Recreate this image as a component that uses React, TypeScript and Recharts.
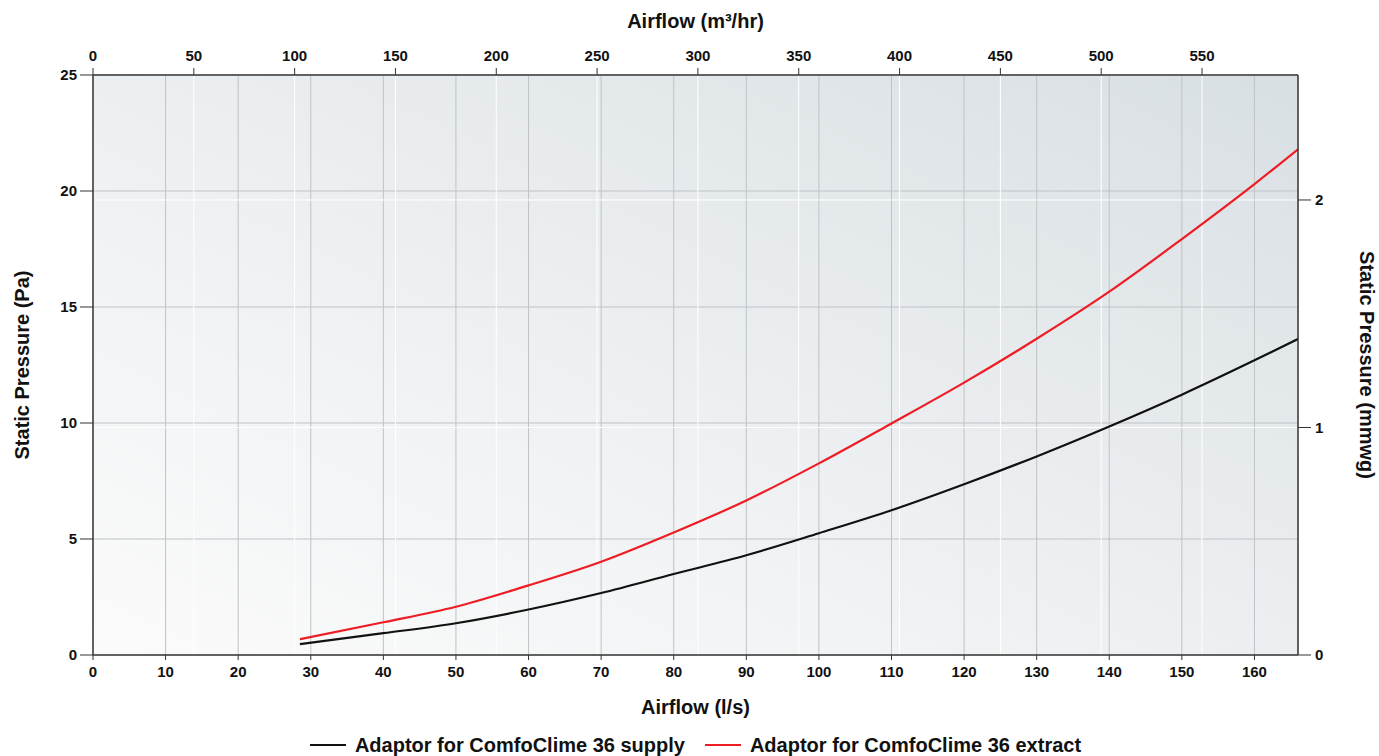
import { LineChart, Line, XAxis, YAxis, CartesianGrid, Legend } from "recharts"

// airflow in l/s, pressure in Pa
const flowLs = [28.5, 40, 50, 60, 70, 80, 90, 100, 110, 120, 130, 140, 150, 160, 166]
const supplyPa = [0.47, 0.94, 1.37, 1.96, 2.67, 3.49, 4.3, 5.25, 6.24, 7.36, 8.56, 9.85, 11.22, 12.7, 13.62]
const extractPa = [0.68, 1.41, 2.08, 3.0, 4.02, 5.28, 6.66, 8.26, 9.98, 11.74, 13.63, 15.66, 17.93, 20.3, 21.8]

const lsTicks = [0, 10, 20, 30, 40, 50, 60, 70, 80, 90, 100, 110, 120, 130, 140, 150, 160]
const m3Ticks = [0, 50, 100, 150, 200, 250, 300, 350, 400, 450, 500, 550]
const paTicks = [0, 5, 10, 15, 20, 25]
const mmTicks = [0, 1, 2]

const seriesOrder = ["supply", "extract"]

const LS_MAX = 166
const PA_MAX = 25
const M3_PER_LS = 3.6
const PA_PER_MMWG = 9.80665

const data = flowLs.map((q, i) => ({
  q,
  m3: q * M3_PER_LS,
  supply: supplyPa[i],
  extract: extractPa[i],
}))

const FONT = '"Liberation Sans", Arial, sans-serif'
const tickStyle = { fill: "#111", fontSize: 15, fontWeight: 700, fontFamily: FONT }
const AXIS = "#333"

function AxisTitle({ viewBox, value, side }: any) {
  const { x, y, width, height } = viewBox
  const common = { fill: "#111", fontSize: 20, fontWeight: 700, fontFamily: FONT, textAnchor: "middle" as const, dominantBaseline: "central" as const }
  if (side === "top") return <text x={x + width / 2} y={y + 21} {...common}>{value}</text>
  if (side === "bottom") return <text x={x + width / 2} y={y + 52} {...common}>{value}</text>
  const cx = side === "left" ? x + 22 : x + 69
  const cy = y + height / 2
  return (
    <text x={cx} y={cy} transform={`rotate(${side === "left" ? -90 : 90} ${cx} ${cy})`} {...common}>
      {value}
    </text>
  )
}

function LegendBox({ payload }: any) {
  const items = [...(payload || [])].sort(
    (a: any, b: any) => seriesOrder.indexOf(a.dataKey) - seriesOrder.indexOf(b.dataKey)
  )
  return (
    <div style={{ height: 36, display: "flex", justifyContent: "center", alignItems: "flex-end", paddingLeft: 12, boxSizing: "border-box" }}>
      {items.map((p: any, i: number) => (
        <div key={i} style={{ display: "flex", alignItems: "center", marginLeft: i ? 20 : 0, lineHeight: "22px" }}>
          <span style={{ display: "inline-block", width: 36, height: 2, background: p.color, marginRight: 9 }} />
          <span style={{ fontFamily: FONT, fontWeight: 700, fontSize: 20, color: "#111" }}>{p.value}</span>
        </div>
      ))}
    </div>
  )
}

export default function App() {
  return (
    <div style={{ position: "absolute", left: 0, top: 0, background: "#fff" }}>
      <LineChart width={1379} height={756} data={data} margin={{ top: 0, right: 0, bottom: 0, left: 0 }} style={{ fontFamily: FONT }}>
        <defs>
          <linearGradient id="plotBg" x1="0" y1="1" x2="1" y2="0">
            <stop offset="0%" stopColor="#fbfbfb" />
            <stop offset="50%" stopColor="#eceff1" />
            <stop offset="100%" stopColor="#d8dfe3" />
          </linearGradient>
        </defs>
        <CartesianGrid xAxisId="ls" yAxisId="pa" stroke="#bfc3c6" strokeWidth={1} fill="url(#plotBg)" fillOpacity={1} />
        <CartesianGrid xAxisId="m3" yAxisId="mm" stroke="#ffffff" strokeWidth={1} />
        <XAxis xAxisId="ls" dataKey="q" type="number" orientation="bottom" domain={[0, LS_MAX]} ticks={lsTicks}
          allowDataOverflow height={65} tick={tickStyle} tickSize={5} tickMargin={6}
          axisLine={{ stroke: AXIS, strokeWidth: 1.5 }} tickLine={{ stroke: AXIS }}
          label={<AxisTitle value="Airflow (l/s)" side="bottom" />} />
        <XAxis xAxisId="m3" dataKey="m3" type="number" orientation="top" domain={[0, LS_MAX * M3_PER_LS]} ticks={m3Ticks}
          allowDataOverflow height={75} tick={tickStyle} tickSize={7} tickMargin={7}
          axisLine={{ stroke: AXIS, strokeWidth: 1.5 }} tickLine={{ stroke: AXIS }}
          label={<AxisTitle value="Airflow (m³/hr)" side="top" />} />
        <YAxis yAxisId="pa" type="number" orientation="left" domain={[0, PA_MAX]} ticks={paTicks}
          allowDataOverflow width={93} tick={tickStyle} tickSize={13} tickMargin={3}
          axisLine={{ stroke: AXIS, strokeWidth: 1.5 }} tickLine={{ stroke: AXIS }}
          label={<AxisTitle value="Static Pressure (Pa)" side="left" />} />
        <YAxis yAxisId="mm" type="number" orientation="right" domain={[0, PA_MAX / PA_PER_MMWG]} ticks={mmTicks}
          allowDataOverflow width={81} tick={tickStyle} tickSize={13} tickMargin={4}
          axisLine={{ stroke: AXIS, strokeWidth: 1.5 }} tickLine={{ stroke: AXIS }}
          label={<AxisTitle value="Static Pressure (mmwg)" side="right" />} />
        <Legend verticalAlign="bottom" content={<LegendBox />} />
        <Line xAxisId="ls" yAxisId="pa" type="monotone" dataKey="supply" name="Adaptor for ComfoClime 36 supply"
          stroke="#111111" strokeWidth={2.2} dot={false} activeDot={false} isAnimationActive={false} />
        <Line xAxisId="ls" yAxisId="pa" type="monotone" dataKey="extract" name="Adaptor for ComfoClime 36 extract"
          stroke="#ee1c24" strokeWidth={2.2} dot={false} activeDot={false} isAnimationActive={false} />
      </LineChart>
    </div>
  )
}
